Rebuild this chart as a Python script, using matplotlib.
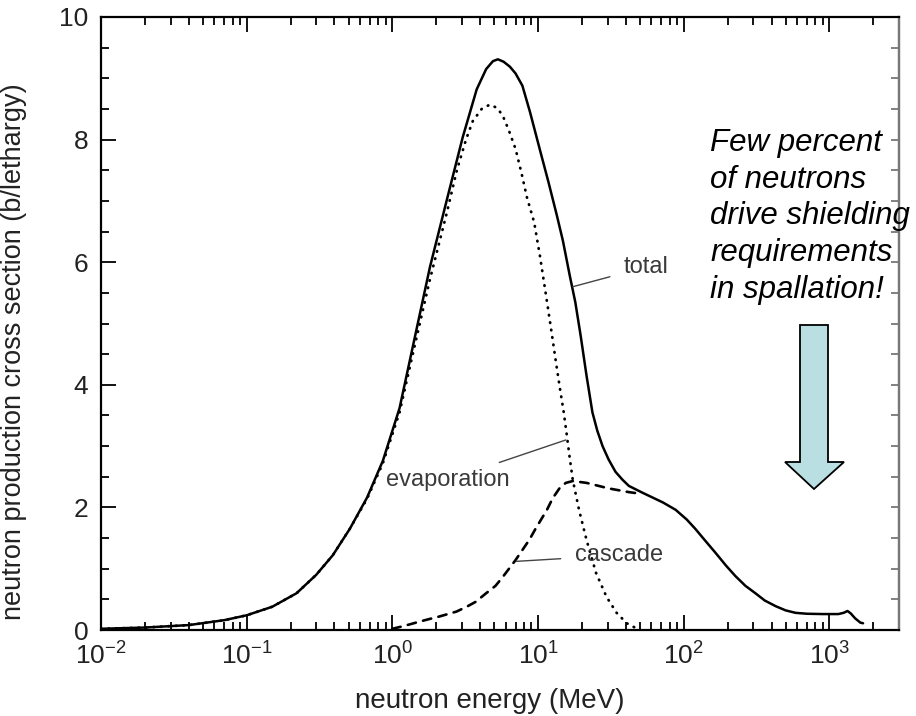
import numpy as np
import matplotlib
matplotlib.use("Agg")
import matplotlib.pyplot as plt
import matplotlib.patches as mpatches
import matplotlib.transforms as mtransforms
from matplotlib.ticker import LogLocator, MultipleLocator

plt.rcParams['font.family'] = ['Liberation Sans', 'DejaVu Sans']
plt.rcParams['mathtext.fontset'] = 'custom'
plt.rcParams['mathtext.rm'] = 'Liberation Sans'
plt.rcParams['mathtext.it'] = 'Liberation Sans:italic'
plt.rcParams['axes.unicode_minus'] = False

# total neutron production (b/lethargy) vs energy (MeV)
total_e = [0.01, 0.02, 0.04, 0.07, 0.1, 0.15, 0.22, 0.3, 0.39, 0.51, 0.67, 0.86,
           1.12, 1.38, 1.81, 2.36, 3.04, 3.79, 4.4, 4.9, 5.3, 5.8, 6.4, 7.0, 7.8,
           8.8, 10.3, 11.8, 13.4, 14.8, 16.5, 18.0, 19.6, 21.5, 23.6, 25.5, 27.7,
           30.5, 34, 38, 42, 52, 72, 88, 105, 120, 140, 165, 195, 226, 265, 310,
           360, 426, 500, 585, 700, 900, 1150, 1250, 1330, 1400, 1500, 1630, 1700]
total_y = [0.02, 0.04, 0.08, 0.16, 0.24, 0.38, 0.60, 0.90, 1.22, 1.65, 2.16, 2.76,
           3.62, 4.62, 5.92, 7.01, 8.04, 8.82, 9.15, 9.28, 9.31, 9.27, 9.19, 9.08, 8.88,
           8.45, 7.83, 7.30, 6.78, 6.35, 5.78, 5.35, 4.80, 4.15, 3.55, 3.25, 3.00,
           2.78, 2.58, 2.45, 2.35, 2.24, 2.08, 1.96, 1.80, 1.65, 1.46, 1.26, 1.05, 0.88,
           0.72, 0.60, 0.48, 0.39, 0.32, 0.28, 0.265, 0.26, 0.26, 0.28, 0.31, 0.27,
           0.19, 0.12, 0.11]

evap_e = [0.01, 0.02, 0.04, 0.07, 0.1, 0.15, 0.22, 0.3, 0.39, 0.51, 0.67, 0.86,
          1.12, 1.38, 1.81, 2.36, 2.77, 3.2, 3.56, 4.1, 4.66, 5.2, 5.7, 6.3, 7.0,
          7.7, 8.4, 9.4, 10.3, 11.4, 12.3, 13.2, 14.1, 15.0, 15.7, 16.5, 17.3, 19.1,
          21.5, 25, 29.5, 34.6, 40.6, 47]
evap_y = [0.02, 0.04, 0.08, 0.16, 0.24, 0.38, 0.60, 0.90, 1.22, 1.65, 2.14, 2.72,
          3.55, 4.50, 5.72, 6.80, 7.50, 8.00, 8.30, 8.50, 8.57, 8.52, 8.40, 8.15, 7.85,
          7.45, 7.05, 6.65, 6.10, 5.42, 4.90, 4.40, 3.95, 3.55, 3.20, 2.80, 2.45, 1.96,
          1.47, 0.93, 0.54, 0.28, 0.11, 0.03]

casc_e = [1.0, 1.22, 1.5, 1.8, 2.1, 2.75, 3.24, 3.73, 4.4, 5.1, 5.7, 7.0, 8.7, 9.6,
          11.5, 12.6, 14.1, 15.5, 17.3, 21.5, 30.5, 41.8, 48]
casc_y = [0.02, 0.07, 0.13, 0.18, 0.22, 0.30, 0.38, 0.46, 0.60, 0.72, 0.86, 1.14,
          1.47, 1.65, 1.96, 2.15, 2.32, 2.40, 2.43, 2.40, 2.31, 2.25, 2.23]

fig = plt.figure(figsize=(9.16, 7.16), dpi=100)
ax = fig.add_axes([101 / 916, 1 - 630 / 716, 798 / 916, 613 / 716])

ax.plot(total_e, total_y, color='black', lw=1.8, solid_capstyle='round',
        solid_joinstyle='round')
ax.plot(evap_e, evap_y, color='black', lw=2.0, linestyle=(0, (0.2, 2.5)),
        dash_capstyle='round')
ax.plot(casc_e, casc_y, color='black', lw=1.9, linestyle=(0, (3.2, 2.8)),
        dash_capstyle='round')

ax.set_xscale('log')
ax.set_xlim(0.01, 3000)
ax.set_ylim(0, 10)
ax.xaxis.set_major_locator(LogLocator(base=10, numticks=10))
ax.xaxis.set_minor_locator(LogLocator(base=10, subs=np.arange(2, 10), numticks=20))
ax.yaxis.set_major_locator(MultipleLocator(2))
ax.yaxis.set_minor_locator(MultipleLocator(0.5))

ax.tick_params(which='both', direction='in', top=True, right=False,
               width=1.3, colors='black', labelcolor='#222222', labelsize=19)
ax.tick_params(which='major', length=11)
ax.tick_params(which='minor', length=5.5)
ax.tick_params(axis='x', which='major', pad=9)
ax.tick_params(axis='y', which='major', pad=9)

for side in ['left', 'top', 'bottom']:
    ax.spines[side].set_linewidth(1.6)
ax.spines['right'].set_linewidth(1.6)
ax.spines['right'].set_color('#777777')

sec = ax.secondary_yaxis('right')
sec.set_yticks(np.arange(0, 10.01, 0.5))
sec.tick_params(direction='in', length=5.5, width=1.3, color='#777777', labelright=False)
sec.spines['right'].set_color('#777777')
sec.spines['right'].set_linewidth(1.6)

ax.set_xlabel('neutron energy (MeV)', fontsize=20, color='#222222')
ax.set_ylabel('neutron production cross section (b/lethargy)', fontsize=19.5,
              color='#222222')
ax.xaxis.set_label_coords(0.4875, -0.095)
ax.yaxis.set_label_coords(-0.093, 0.4535)

lab = dict(fontsize=17, color='#3a3a3a', va='center')
line = dict(arrowstyle='-', color='#444444', lw=1.0, shrinkA=8, shrinkB=0)
ax.annotate('total', xy=(17.3, 5.6), xytext=(38.5, 5.92), ha='left',
            arrowprops=line, **lab)
ax.annotate('evaporation', xy=(15.5, 3.1), xytext=(6.4, 2.45), ha='right',
            arrowprops=line, **lab)
ax.annotate('cascade', xy=(7.1, 1.12), xytext=(17.8, 1.22), ha='left',
            arrowprops=line, **lab)

fig.text(710 / 916, 1 - 128 / 716,
         'Few percent\nof neutrons\ndrive shielding\nrequirements\nin spallation!',
         fontsize=22.5, style='italic', ha='left', va='top', linespacing=1.29,
         color='black')

# block arrow, drawn in image pixel coordinates (y downwards)
px = mtransforms.Affine2D().scale(1 / 916, -1 / 716).translate(0, 1) + fig.transFigure
arrow_pts = [(800, 325), (828, 325), (828, 462), (844, 462), (814, 489),
             (785, 462), (800, 462)]
fig.patches.append(mpatches.Polygon(arrow_pts, closed=True, transform=px,
                                    facecolor='#b9dfe2', edgecolor='black', lw=1.3))

fig.savefig('out.png', dpi=100)
